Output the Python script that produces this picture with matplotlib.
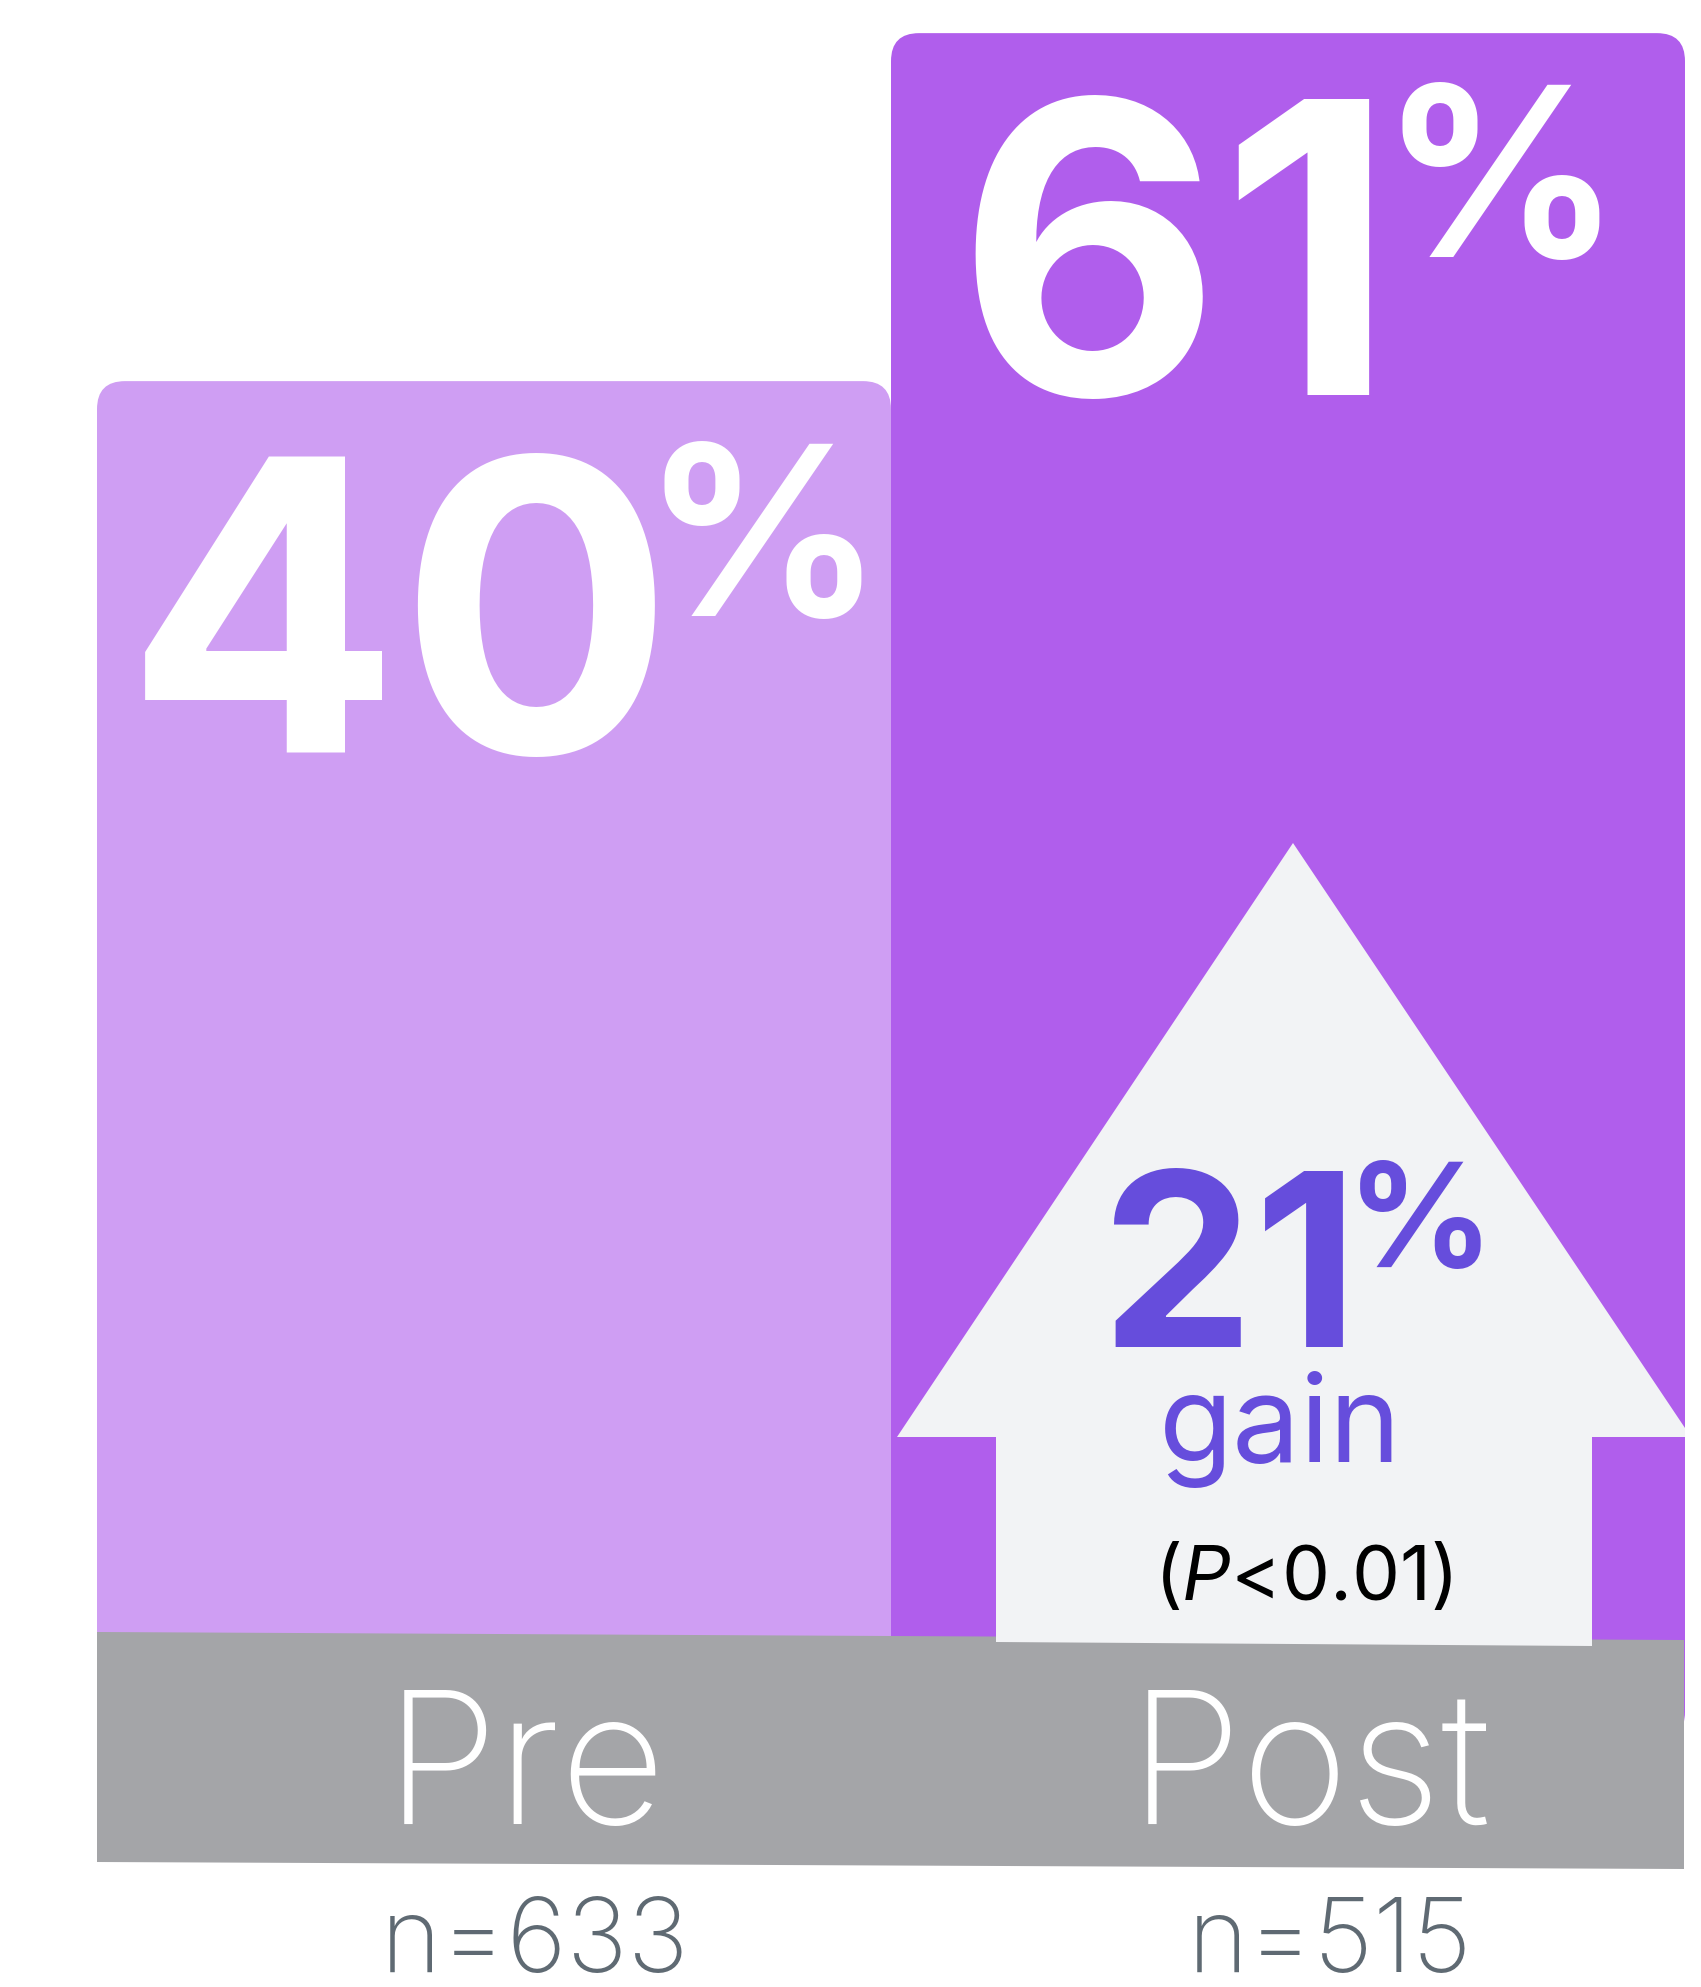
#!/usr/bin/env python3
"""Pre vs Post rate infographic: two touching bars, gain arrow, grey label band."""
import matplotlib
matplotlib.use("Agg")
import matplotlib.pyplot as plt
from matplotlib.patches import FancyBboxPatch, Polygon

groups = ["Pre", "Post"]
rates = [40, 61]
sample_sizes = [633, 515]
gain_pct = 21
p_label = "<0.01"

BAR_COLORS = ["#CF9EF3", "#B05EEC"]
ARROW_COLOR = "#F2F3F5"
BAND_COLOR = "#A4A5A8"
GAIN_COLOR = "#664DDC"
N_COLOR = "#5F6A73"
FONT = "Inter"

W, H = 1701, 1987
plt.rcParams["font.family"] = [FONT, "DejaVu Sans"]
plt.rcParams["mathtext.fontset"] = "custom"
plt.rcParams["mathtext.it"] = f"{FONT}:italic"
plt.rcParams["mathtext.rm"] = FONT

fig = plt.figure(figsize=(W / 100, H / 100), dpi=100)
fig.patch.set_facecolor("white")

# bar axes: x in pixels, y in percent
ymin, ymax = -56.91, 63.0
ax_bar = fig.add_axes([0, 0, 1, 1])
ax_bar.set_xlim(0, W)
ax_bar.set_ylim(ymin, ymax)
ax_bar.axis("off")
base = -42  # hidden under the grey band
centers = [494, 1288]
bars = ax_bar.bar(centers, [r - base for r in rates], bottom=base, width=794,
                  color=BAR_COLORS)
y_per_px = (ymax - ymin) / H
for rect in bars:
    x0, y0 = rect.get_xy()
    ax_bar.add_patch(FancyBboxPatch((x0, y0), rect.get_width(), rect.get_height(),
                                    boxstyle="round,pad=0,rounding_size=28",
                                    mutation_aspect=y_per_px,
                                    fc=rect.get_facecolor(), ec="none"))
    rect.remove()

# overlay axes in pixel coordinates
ax = fig.add_axes([0, 0, 1, 1])
ax.set_xlim(0, W)
ax.set_ylim(H, 0)
ax.axis("off")
ax.patch.set_alpha(0)

band = [(97, 1632), (1684, 1640), (1684, 1869), (97, 1862)]
ax.add_patch(Polygon(band, closed=True, fc=BAND_COLOR, ec="none", zorder=1))

arrow = [(1293, 843), (1685, 1428), (1685, 1437), (1592, 1437), (1592, 1646),
         (996, 1642), (996, 1437), (897, 1437)]
ax.add_patch(Polygon(arrow, closed=True, fc=ARROW_COLOR, ec="none", zorder=2))

# big percentages
big = [(400, 753, 762, 616), (1176, 395, 1500, 257)]
for (nx, ny, px, py), r in zip(big, rates):
    ax.text(nx, ny, f"{r}", ha="center", va="baseline", color="white",
            fontsize=293, fontweight="bold", zorder=3)
    ax.text(px, py, "%", ha="center", va="baseline", color="white",
            fontsize=170, fontweight="bold", zorder=3)

# gain
ax.text(1230, 1347, f"{gain_pct}", ha="center", va="baseline", color=GAIN_COLOR,
        fontsize=175, fontweight="bold", zorder=3)
ax.text(1420, 1267, "%", ha="center", va="baseline", color=GAIN_COLOR,
        fontsize=104, fontweight="bold", zorder=3)
ax.text(1280, 1462, "gain", ha="center", va="baseline", color=GAIN_COLOR,
        fontsize=87, zorder=3)
ax.text(1303, 1600, "($\\mathit{P}$" + p_label + ")", ha="center", va="baseline",
        color="black", fontsize=55, zorder=3)

# labels
label_x = [525, 1310]
n_x = [535, 1330]
for lx, nx, g, n in zip(label_x, n_x, groups, sample_sizes):
    ax.text(lx, 1824, g, ha="center", va="baseline", color="white",
            fontsize=132, fontweight="light", zorder=3)
    ax.text(nx, 1972, f"n={n}", ha="center", va="baseline", color=N_COLOR,
            fontsize=74, fontweight="light", zorder=3)

fig.savefig("out.png", dpi=100, facecolor="white")
plt.close(fig)
